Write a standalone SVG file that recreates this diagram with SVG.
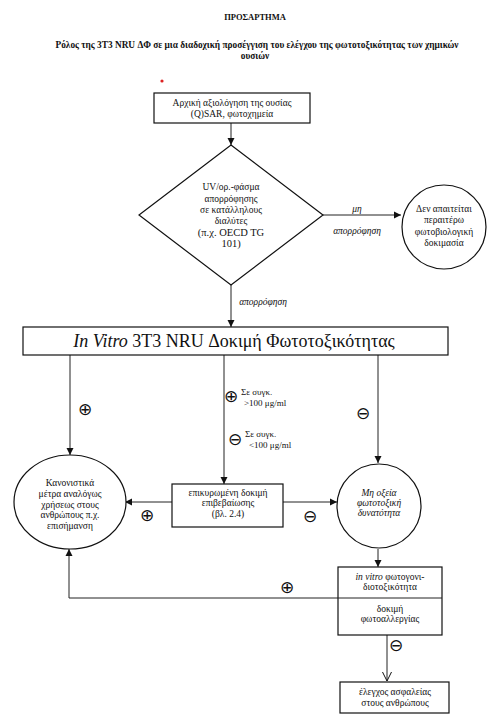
<svg xmlns="http://www.w3.org/2000/svg" width="501" height="722" viewBox="0 0 501 722" font-family="'Liberation Serif','DejaVu Serif',serif">
<style>
text{font-family:'Liberation Serif','DejaVu Serif','Times New Roman',serif;fill:#111;text-anchor:middle}
.t{font-size:9.5px}
.b{font-weight:bold}
.i{font-style:italic}
.sym{font-family:'DejaVu Sans',sans-serif;font-size:17px}
.shape{fill:#fff;stroke:#111;stroke-width:1.2}
.ln{fill:none;stroke:#222;stroke-width:1}
</style>
<defs>
<marker id="ah" markerWidth="8" markerHeight="8" refX="7" refY="4" orient="auto" markerUnits="userSpaceOnUse">
<path d="M0,0.5 L7,4 L0,7.5 Z" fill="#111"/>
</marker>
<marker id="open" markerWidth="10" markerHeight="10" refX="9" refY="5" orient="auto" markerUnits="userSpaceOnUse">
<path d="M0,0.5 L9,5 L0,9.5" fill="none" stroke="#111" stroke-width="1"/>
</marker>
</defs>
<rect width="501" height="722" fill="#fff"/>
<text x="255" y="20" class="b" style="font-size:8.5px">ΠΡΟΣΑΡΤΗΜΑ</text>
<text x="257" y="48" class="b" style="font-size:9.3px">Ρόλος της 3T3 NRU ΔΦ σε μια διαδοχική προσέγγιση του ελέγχου της φωτοτοξικότητας των χημικών</text>
<text x="255" y="59" class="b" style="font-size:9.3px">ουσιών</text>
<circle cx="162" cy="81" r="1.6" fill="#d22"/>

<g id="connectors">
<line class="ln" x1="231" y1="123" x2="231" y2="145" marker-end="url(#ah)"/>
<line class="ln" x1="323" y1="215" x2="401" y2="215" marker-end="url(#ah)"/>
<line class="ln" x1="231" y1="285" x2="231" y2="327" marker-end="url(#ah)"/>
<line class="ln" x1="70" y1="355" x2="70" y2="455" marker-end="url(#ah)"/>
<line class="ln" x1="224" y1="355" x2="224" y2="484" marker-end="url(#ah)"/>
<line class="ln" x1="378" y1="355" x2="378" y2="463" marker-end="url(#ah)"/>
<line class="ln" x1="172" y1="502" x2="125" y2="502" marker-end="url(#ah)"/>
<line class="ln" x1="283" y1="502" x2="337" y2="502" marker-end="url(#ah)"/>
<line class="ln" x1="378" y1="549" x2="378" y2="567" marker-end="url(#ah)"/>
<polyline class="ln" points="338,598 69,598 69,549" marker-end="url(#ah)"/>
<line class="ln" x1="387" y1="635" x2="387" y2="681" marker-end="url(#open)"/>
<text x="357" y="212" class="t i">μη</text>
<text x="357" y="234" class="t i">απορρόφηση</text>
<text x="263" y="305" class="t i">απορρόφηση</text>
<text x="85" y="415" class="sym">⊕</text>
<text x="231" y="402" class="sym">⊕</text>
<text x="241" y="395" style="font-size:9px;text-anchor:start">Σε συγκ.</text>
<text x="244" y="406" style="font-size:9px;text-anchor:start">&gt;100 μg/ml</text>
<text x="235" y="445" class="sym">⊖</text>
<text x="245" y="437" style="font-size:9px;text-anchor:start">Σε συγκ.</text>
<text x="249" y="448" style="font-size:9px;text-anchor:start">&lt;100 μg/ml</text>
<text x="363" y="419" class="sym">⊖</text>
<text x="147" y="521" class="sym">⊕</text>
<text x="310" y="522" class="sym">⊖</text>
<text x="287" y="593" class="sym">⊕</text>
<text x="396" y="651" class="sym">⊖</text>
</g>

<g id="n-initial">
<rect class="shape" x="154" y="93" width="156" height="30"/>
<text x="232" y="106" class="t">Αρχική αξιολόγηση της ουσίας</text>
<text x="232" y="117" class="t">(Q)SAR, φωτοχημεία</text>
</g>

<g id="n-uv">
<polygon class="shape" points="231,145 323,215 231,285 139,215"/>
<text x="231" y="190" class="t">UV/ορ.-φάσμα</text>
<text x="231" y="202" class="t">απορρόφησης</text>
<text x="231" y="213" class="t">σε κατάλληλους</text>
<text x="231" y="224" class="t">διαλύτες</text>
<text x="231" y="236" style="font-size:10.5px">(π.χ. OECD TG</text>
<text x="231" y="247" style="font-size:10.5px">101)</text>
</g>

<g id="n-nofurther">
<circle class="shape" cx="444" cy="227" r="42"/>
<text x="444" y="212" class="t">Δεν απαιτείται</text>
<text x="444" y="223" class="t">περαιτέρω</text>
<text x="444" y="235" class="t">φωτοβιολογική</text>
<text x="444" y="246" class="t">δοκιμασία</text>
</g>

<g id="n-nru">
<rect class="shape" x="23" y="327" width="425" height="28"/>
<text x="234" y="347" style="font-size:18px"><tspan font-style="italic">In Vitro</tspan> 3T3 NRU Δοκιμή Φωτοτοξικότητας</text>
</g>

<g id="n-regulatory">
<ellipse class="shape" cx="70" cy="502" rx="56" ry="47"/>
<text x="70" y="486" class="t">Κανονιστικά</text>
<text x="70" y="497" class="t">μέτρα αναλόγως</text>
<text x="70" y="508" class="t">χρήσεως στους</text>
<text x="70" y="518" class="t">ανθρώπους π.χ.</text>
<text x="70" y="529" class="t">επισήμανση</text>
</g>

<g id="n-validated">
<rect class="shape" x="172" y="484" width="111" height="43"/>
<text x="228" y="496" class="t">επικυρωμένη δοκιμή</text>
<text x="228" y="506" class="t">επιβεβαίωσης</text>
<text x="228" y="517" class="t">(βλ. 2.4)</text>
</g>

<g id="n-nonacute">
<circle class="shape" cx="379" cy="506" r="42"/>
<text x="379" y="496" class="t i">Μη οξεία</text>
<text x="379" y="506" class="t i">φωτοτοξική</text>
<text x="379" y="516" class="t i">δυνατότητα</text>
</g>

<g id="n-genotox">
<rect class="shape" x="338" y="567" width="104" height="68"/>
<line class="ln" x1="338" y1="598" x2="442" y2="598"/>
<text x="390" y="580" class="t"><tspan font-style="italic">in vitro</tspan> φωτογονι-</text>
<text x="390" y="590" class="t">διοτοξικότητα</text>
<text x="390" y="612" class="t">δοκιμή</text>
<text x="390" y="622" class="t">φωτοαλλεργίας</text>
</g>

<g id="n-safety">
<rect class="shape" x="340" y="682" width="109" height="31"/>
<text x="395" y="695" class="t">έλεγχος ασφαλείας</text>
<text x="395" y="706" class="t">στους ανθρώπους</text>
</g>
</svg>
